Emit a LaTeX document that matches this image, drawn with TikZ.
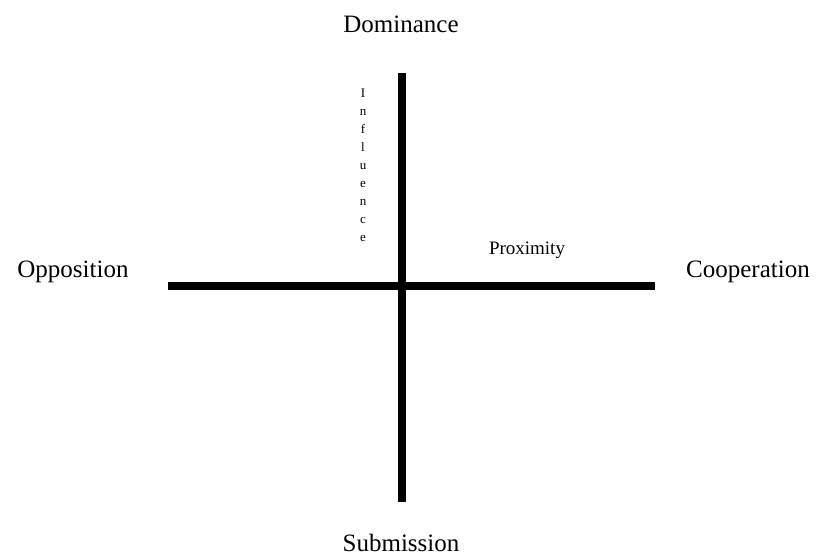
\documentclass[tikz,border=0pt]{standalone}
\usepackage{fontspec}
\setmainfont{Liberation Serif}
\begin{document}
\begin{tikzpicture}[x=1pt,y=-1pt,
  axis/.style={line width=8pt,black},
  biglabel/.style={font=\fontsize{25}{30}\selectfont,inner sep=0pt},
  smalllabel/.style={font=\fontsize{19}{23}\selectfont,inner sep=0pt},
  vlabel/.style={font=\fontsize{13}{18}\selectfont,inner sep=0pt,align=center}]
\useasboundingbox (0,0) rectangle (825,558);
\coordinate (top) at (402,73);
\coordinate (bottom) at (402,502);
\coordinate (left) at (168,286);
\coordinate (right) at (655,286);
\draw[axis] (top) -- (bottom);
\draw[axis] (left) -- (right);
\node[biglabel] (dom) at (401,24) {Dominance};
\node[biglabel] (sub) at (401,543) {Submission};
\node[biglabel] (opp) at (73,272) {Opposition};
\node[biglabel] (coop) at (748,272) {Cooperation};
\node[smalllabel] (prox) at (527,250) {Proximity};
\node[vlabel] (infl) at (363,165) {I\\n\\f\\l\\u\\e\\n\\c\\e};
\end{tikzpicture}
\end{document}
